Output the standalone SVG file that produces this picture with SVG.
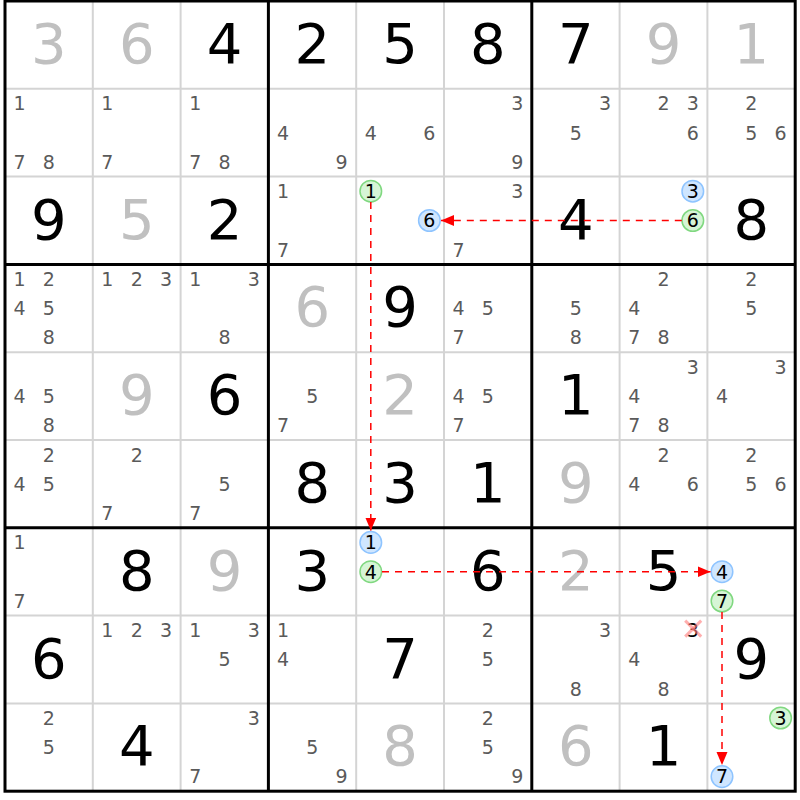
<svg xmlns="http://www.w3.org/2000/svg" width="800" height="800" viewBox="0 0 800 800">
<style>
text{font-family:"DejaVu Sans","Liberation Sans",sans-serif;text-anchor:middle}
.g{font-size:56px;fill:#c0c0c0}
.b{font-size:56px;fill:#000}
.c{font-size:19px;fill:#5a5a5a}
.k{font-size:19px;fill:#000}
.thin{stroke:#d4d4d4;stroke-width:2}
.thick{stroke:#000;stroke-width:3}
.hb{fill:#cfe6ff;stroke:#8ec4ff;stroke-width:1.5}
.hg{fill:#d6f5d6;stroke:#80d880;stroke-width:1.5}
.ln{stroke:#ff0000;stroke-width:1.5;stroke-dasharray:7,6;fill:none}
.x{stroke:#ff7a7a;stroke-width:3;opacity:0.6}
</style>
<defs>
<marker id="ah" markerUnits="userSpaceOnUse" markerWidth="14" markerHeight="12" refX="13" refY="5.5" orient="auto">
<path d="M0,0 L13,5.5 L0,11 z" fill="#ff0000"/>
</marker>
</defs>
<rect x="0" y="0" width="800" height="800" fill="#fff"/>
<g id="grid">
<g class="thin">
<line x1="92.8" y1="1" x2="92.8" y2="791.2"/><line x1="180.6" y1="1" x2="180.6" y2="791.2"/>
<line x1="356.2" y1="1" x2="356.2" y2="791.2"/><line x1="444" y1="1" x2="444" y2="791.2"/>
<line x1="619.6" y1="1" x2="619.6" y2="791.2"/><line x1="707.4" y1="1" x2="707.4" y2="791.2"/>
<line x1="5" y1="88.8" x2="795.2" y2="88.8"/><line x1="5" y1="176.6" x2="795.2" y2="176.6"/>
<line x1="5" y1="352.2" x2="795.2" y2="352.2"/><line x1="5" y1="440" x2="795.2" y2="440"/>
<line x1="5" y1="615.6" x2="795.2" y2="615.6"/><line x1="5" y1="703.4" x2="795.2" y2="703.4"/>
</g>
<g class="thick">
<line x1="268.4" y1="1" x2="268.4" y2="791.2"/><line x1="531.8" y1="1" x2="531.8" y2="791.2"/>
<line x1="5" y1="264.4" x2="795.2" y2="264.4"/><line x1="5" y1="527.8" x2="795.2" y2="527.8"/>
<rect x="5" y="1" width="790.2" height="790.2" fill="none"/>
</g>
</g>
<!-- Row 1 -->
<g id="r1c1" transform="translate(5,1)"><text class="g" x="43.9" y="62">3</text></g>
<g id="r1c2" transform="translate(92.8,1)"><text class="g" x="43.9" y="62">6</text></g>
<g id="r1c3" transform="translate(180.6,1)"><text class="b" x="43.9" y="62">4</text></g>
<g id="r1c4" transform="translate(268.4,1)"><text class="b" x="43.9" y="62">2</text></g>
<g id="r1c5" transform="translate(356.2,1)"><text class="b" x="43.9" y="62">5</text></g>
<g id="r1c6" transform="translate(444,1)"><text class="b" x="43.9" y="62">8</text></g>
<g id="r1c7" transform="translate(531.8,1)"><text class="b" x="43.9" y="62">7</text></g>
<g id="r1c8" transform="translate(619.6,1)"><text class="g" x="43.9" y="62">9</text></g>
<g id="r1c9" transform="translate(707.4,1)"><text class="g" x="43.9" y="62">1</text></g>
<!-- Row 2 -->
<g id="r2c1" transform="translate(5,88.8)"><text class="c" x="14.6" y="21.5">1</text><text class="c" x="14.6" y="80.1">7</text><text class="c" x="43.9" y="80.1">8</text></g>
<g id="r2c2" transform="translate(92.8,88.8)"><text class="c" x="14.6" y="21.5">1</text><text class="c" x="14.6" y="80.1">7</text></g>
<g id="r2c3" transform="translate(180.6,88.8)"><text class="c" x="14.6" y="21.5">1</text><text class="c" x="14.6" y="80.1">7</text><text class="c" x="43.9" y="80.1">8</text></g>
<g id="r2c4" transform="translate(268.4,88.8)"><text class="c" x="14.6" y="50.8">4</text><text class="c" x="73.2" y="80.1">9</text></g>
<g id="r2c5" transform="translate(356.2,88.8)"><text class="c" x="14.6" y="50.8">4</text><text class="c" x="73.2" y="50.8">6</text></g>
<g id="r2c6" transform="translate(444,88.8)"><text class="c" x="73.2" y="21.5">3</text><text class="c" x="73.2" y="80.1">9</text></g>
<g id="r2c7" transform="translate(531.8,88.8)"><text class="c" x="73.2" y="21.5">3</text><text class="c" x="43.9" y="50.8">5</text></g>
<g id="r2c8" transform="translate(619.6,88.8)"><text class="c" x="43.9" y="21.5">2</text><text class="c" x="73.2" y="21.5">3</text><text class="c" x="73.2" y="50.8">6</text></g>
<g id="r2c9" transform="translate(707.4,88.8)"><text class="c" x="43.9" y="21.5">2</text><text class="c" x="43.9" y="50.8">5</text><text class="c" x="73.2" y="50.8">6</text></g>
<!-- Row 3 -->
<g id="r3c1" transform="translate(5,176.6)"><text class="b" x="43.9" y="62">9</text></g>
<g id="r3c2" transform="translate(92.8,176.6)"><text class="g" x="43.9" y="62">5</text></g>
<g id="r3c3" transform="translate(180.6,176.6)"><text class="b" x="43.9" y="62">2</text></g>
<g id="r3c4" transform="translate(268.4,176.6)"><text class="c" x="14.6" y="21.5">1</text><text class="c" x="14.6" y="80.1">7</text></g>
<g id="r3c5" transform="translate(356.2,176.6)"><circle class="hg" cx="14.6" cy="14.6" r="10.8"/><text class="k" x="14.6" y="21.5">1</text><circle class="hb" cx="73.2" cy="43.9" r="10.8"/><text class="k" x="73.2" y="50.8">6</text></g>
<g id="r3c6" transform="translate(444,176.6)"><text class="c" x="73.2" y="21.5">3</text><text class="c" x="14.6" y="80.1">7</text></g>
<g id="r3c7" transform="translate(531.8,176.6)"><text class="b" x="43.9" y="62">4</text></g>
<g id="r3c8" transform="translate(619.6,176.6)"><circle class="hb" cx="73.2" cy="14.6" r="10.8"/><text class="k" x="73.2" y="21.5">3</text><circle class="hg" cx="73.2" cy="43.9" r="10.8"/><text class="k" x="73.2" y="50.8">6</text></g>
<g id="r3c9" transform="translate(707.4,176.6)"><text class="b" x="43.9" y="62">8</text></g>
<!-- Row 4 -->
<g id="r4c1" transform="translate(5,264.4)"><text class="c" x="14.6" y="21.5">1</text><text class="c" x="43.9" y="21.5">2</text><text class="c" x="14.6" y="50.8">4</text><text class="c" x="43.9" y="50.8">5</text><text class="c" x="43.9" y="80.1">8</text></g>
<g id="r4c2" transform="translate(92.8,264.4)"><text class="c" x="14.6" y="21.5">1</text><text class="c" x="43.9" y="21.5">2</text><text class="c" x="73.2" y="21.5">3</text></g>
<g id="r4c3" transform="translate(180.6,264.4)"><text class="c" x="14.6" y="21.5">1</text><text class="c" x="73.2" y="21.5">3</text><text class="c" x="43.9" y="80.1">8</text></g>
<g id="r4c4" transform="translate(268.4,264.4)"><text class="g" x="43.9" y="62">6</text></g>
<g id="r4c5" transform="translate(356.2,264.4)"><text class="b" x="43.9" y="62">9</text></g>
<g id="r4c6" transform="translate(444,264.4)"><text class="c" x="14.6" y="50.8">4</text><text class="c" x="43.9" y="50.8">5</text><text class="c" x="14.6" y="80.1">7</text></g>
<g id="r4c7" transform="translate(531.8,264.4)"><text class="c" x="43.9" y="50.8">5</text><text class="c" x="43.9" y="80.1">8</text></g>
<g id="r4c8" transform="translate(619.6,264.4)"><text class="c" x="43.9" y="21.5">2</text><text class="c" x="14.6" y="50.8">4</text><text class="c" x="14.6" y="80.1">7</text><text class="c" x="43.9" y="80.1">8</text></g>
<g id="r4c9" transform="translate(707.4,264.4)"><text class="c" x="43.9" y="21.5">2</text><text class="c" x="43.9" y="50.8">5</text></g>
<!-- Row 5 -->
<g id="r5c1" transform="translate(5,352.2)"><text class="c" x="14.6" y="50.8">4</text><text class="c" x="43.9" y="50.8">5</text><text class="c" x="43.9" y="80.1">8</text></g>
<g id="r5c2" transform="translate(92.8,352.2)"><text class="g" x="43.9" y="62">9</text></g>
<g id="r5c3" transform="translate(180.6,352.2)"><text class="b" x="43.9" y="62">6</text></g>
<g id="r5c4" transform="translate(268.4,352.2)"><text class="c" x="43.9" y="50.8">5</text><text class="c" x="14.6" y="80.1">7</text></g>
<g id="r5c5" transform="translate(356.2,352.2)"><text class="g" x="43.9" y="62">2</text></g>
<g id="r5c6" transform="translate(444,352.2)"><text class="c" x="14.6" y="50.8">4</text><text class="c" x="43.9" y="50.8">5</text><text class="c" x="14.6" y="80.1">7</text></g>
<g id="r5c7" transform="translate(531.8,352.2)"><text class="b" x="43.9" y="62">1</text></g>
<g id="r5c8" transform="translate(619.6,352.2)"><text class="c" x="73.2" y="21.5">3</text><text class="c" x="14.6" y="50.8">4</text><text class="c" x="14.6" y="80.1">7</text><text class="c" x="43.9" y="80.1">8</text></g>
<g id="r5c9" transform="translate(707.4,352.2)"><text class="c" x="73.2" y="21.5">3</text><text class="c" x="14.6" y="50.8">4</text></g>
<!-- Row 6 -->
<g id="r6c1" transform="translate(5,440)"><text class="c" x="43.9" y="21.5">2</text><text class="c" x="14.6" y="50.8">4</text><text class="c" x="43.9" y="50.8">5</text></g>
<g id="r6c2" transform="translate(92.8,440)"><text class="c" x="43.9" y="21.5">2</text><text class="c" x="14.6" y="80.1">7</text></g>
<g id="r6c3" transform="translate(180.6,440)"><text class="c" x="43.9" y="50.8">5</text><text class="c" x="14.6" y="80.1">7</text></g>
<g id="r6c4" transform="translate(268.4,440)"><text class="b" x="43.9" y="62">8</text></g>
<g id="r6c5" transform="translate(356.2,440)"><text class="b" x="43.9" y="62">3</text></g>
<g id="r6c6" transform="translate(444,440)"><text class="b" x="43.9" y="62">1</text></g>
<g id="r6c7" transform="translate(531.8,440)"><text class="g" x="43.9" y="62">9</text></g>
<g id="r6c8" transform="translate(619.6,440)"><text class="c" x="43.9" y="21.5">2</text><text class="c" x="14.6" y="50.8">4</text><text class="c" x="73.2" y="50.8">6</text></g>
<g id="r6c9" transform="translate(707.4,440)"><text class="c" x="43.9" y="21.5">2</text><text class="c" x="43.9" y="50.8">5</text><text class="c" x="73.2" y="50.8">6</text></g>
<!-- Row 7 -->
<g id="r7c1" transform="translate(5,527.8)"><text class="c" x="14.6" y="21.5">1</text><text class="c" x="14.6" y="80.1">7</text></g>
<g id="r7c2" transform="translate(92.8,527.8)"><text class="b" x="43.9" y="62">8</text></g>
<g id="r7c3" transform="translate(180.6,527.8)"><text class="g" x="43.9" y="62">9</text></g>
<g id="r7c4" transform="translate(268.4,527.8)"><text class="b" x="43.9" y="62">3</text></g>
<g id="r7c5" transform="translate(356.2,527.8)"><circle class="hb" cx="14.6" cy="14.6" r="10.8"/><text class="k" x="14.6" y="21.5">1</text><circle class="hg" cx="14.6" cy="43.9" r="10.8"/><text class="k" x="14.6" y="50.8">4</text></g>
<g id="r7c6" transform="translate(444,527.8)"><text class="b" x="43.9" y="62">6</text></g>
<g id="r7c7" transform="translate(531.8,527.8)"><text class="g" x="43.9" y="62">2</text></g>
<g id="r7c8" transform="translate(619.6,527.8)"><text class="b" x="43.9" y="62">5</text></g>
<g id="r7c9" transform="translate(707.4,527.8)"><circle class="hb" cx="14.6" cy="43.9" r="10.8"/><text class="k" x="14.6" y="50.8">4</text><circle class="hg" cx="14.6" cy="73.2" r="10.8"/><text class="k" x="14.6" y="80.1">7</text></g>
<!-- Row 8 -->
<g id="r8c1" transform="translate(5,615.6)"><text class="b" x="43.9" y="62">6</text></g>
<g id="r8c2" transform="translate(92.8,615.6)"><text class="c" x="14.6" y="21.5">1</text><text class="c" x="43.9" y="21.5">2</text><text class="c" x="73.2" y="21.5">3</text></g>
<g id="r8c3" transform="translate(180.6,615.6)"><text class="c" x="14.6" y="21.5">1</text><text class="c" x="73.2" y="21.5">3</text><text class="c" x="43.9" y="50.8">5</text></g>
<g id="r8c4" transform="translate(268.4,615.6)"><text class="c" x="14.6" y="21.5">1</text><text class="c" x="14.6" y="50.8">4</text></g>
<g id="r8c5" transform="translate(356.2,615.6)"><text class="b" x="43.9" y="62">7</text></g>
<g id="r8c6" transform="translate(444,615.6)"><text class="c" x="43.9" y="21.5">2</text><text class="c" x="43.9" y="50.8">5</text></g>
<g id="r8c7" transform="translate(531.8,615.6)"><text class="c" x="73.2" y="21.5">3</text><text class="c" x="43.9" y="80.1">8</text></g>
<g id="r8c8" transform="translate(619.6,615.6)"><text class="k" x="73.2" y="21.5">3</text><line class="x" x1="65.6" y1="5" x2="81.6" y2="21"/><line class="x" x1="81.6" y1="5" x2="65.6" y2="21"/><text class="c" x="14.6" y="50.8">4</text><text class="c" x="43.9" y="80.1">8</text></g>
<g id="r8c9" transform="translate(707.4,615.6)"><text class="b" x="43.9" y="62">9</text></g>
<!-- Row 9 -->
<g id="r9c1" transform="translate(5,703.4)"><text class="c" x="43.9" y="21.5">2</text><text class="c" x="43.9" y="50.8">5</text></g>
<g id="r9c2" transform="translate(92.8,703.4)"><text class="b" x="43.9" y="62">4</text></g>
<g id="r9c3" transform="translate(180.6,703.4)"><text class="c" x="73.2" y="21.5">3</text><text class="c" x="14.6" y="80.1">7</text></g>
<g id="r9c4" transform="translate(268.4,703.4)"><text class="c" x="43.9" y="50.8">5</text><text class="c" x="73.2" y="80.1">9</text></g>
<g id="r9c5" transform="translate(356.2,703.4)"><text class="g" x="43.9" y="62">8</text></g>
<g id="r9c6" transform="translate(444,703.4)"><text class="c" x="43.9" y="21.5">2</text><text class="c" x="43.9" y="50.8">5</text><text class="c" x="73.2" y="80.1">9</text></g>
<g id="r9c7" transform="translate(531.8,703.4)"><text class="g" x="43.9" y="62">6</text></g>
<g id="r9c8" transform="translate(619.6,703.4)"><text class="b" x="43.9" y="62">1</text></g>
<g id="r9c9" transform="translate(707.4,703.4)"><circle class="hg" cx="73.2" cy="14.6" r="10.8"/><text class="k" x="73.2" y="21.5">3</text><circle class="hb" cx="14.6" cy="73.2" r="10.8"/><text class="k" x="14.6" y="80.1">7</text></g>
<!-- Connectors -->
<g id="connectors">
<line class="ln" x1="681.8" y1="220.5" x2="441" y2="220.5" marker-end="url(#ah)"/>
<line class="ln" x1="370.8" y1="202" x2="370.8" y2="530.5" marker-end="url(#ah)"/>
<line class="ln" x1="382" y1="571.7" x2="710.5" y2="571.7" marker-end="url(#ah)"/>
<line class="ln" x1="722" y1="612" x2="722" y2="765" marker-end="url(#ah)"/>
</g>
</svg>
